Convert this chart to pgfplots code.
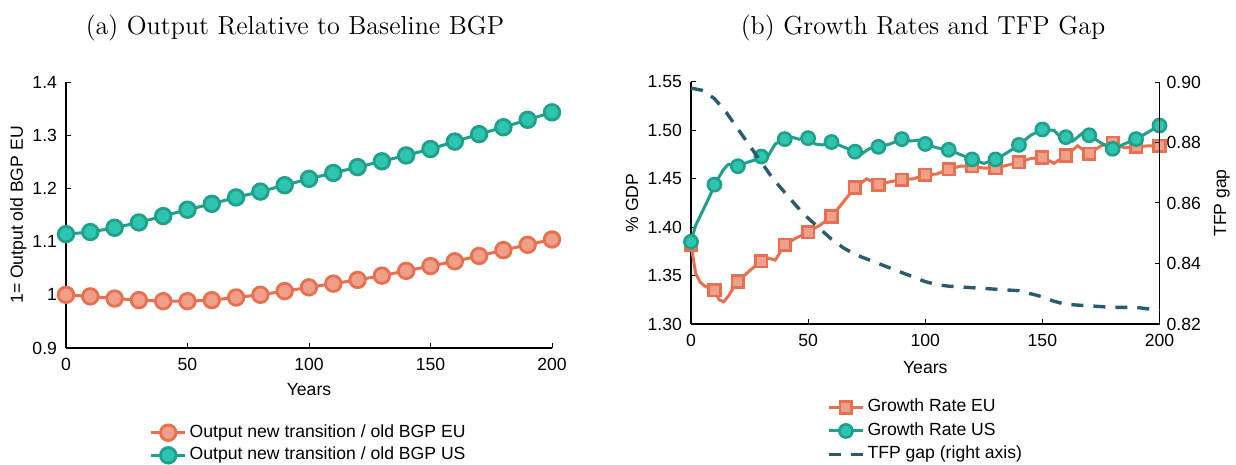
\documentclass[border=0pt]{standalone}
\usepackage{fontspec}
\usepackage{pgfplots}
\pgfplotsset{compat=1.18}
\newfontfamily\arial{Liberation Sans}
\definecolor{euedge}{HTML}{E8704F}
\definecolor{eufill}{HTML}{F0A08A}
\definecolor{usedge}{HTML}{1FA08A}
\definecolor{usfill}{HTML}{2EC4B0}
\definecolor{tfp}{HTML}{2A5C70}

\pgfplotstableread{
x eu us
0 1.000 1.114
10 0.997 1.118
20 0.993 1.126
30 0.990 1.136
40 0.988 1.148
50 0.988 1.160
60 0.990 1.171
70 0.995 1.183
80 1.000 1.194
90 1.007 1.206
100 1.014 1.218
110 1.021 1.229
120 1.028 1.240
130 1.036 1.251
140 1.045 1.262
150 1.054 1.274
160 1.063 1.288
170 1.073 1.302
180 1.084 1.315
190 1.094 1.329
200 1.104 1.343
}\outputdata

\pgfplotstableread{
x eu us
0 1.382 1.385
10 1.335 1.444
20 1.344 1.463
30 1.365 1.473
40 1.382 1.491
50 1.395 1.492
60 1.411 1.488
70 1.441 1.478
80 1.444 1.483
90 1.449 1.491
100 1.454 1.486
110 1.460 1.480
120 1.463 1.470
130 1.461 1.470
140 1.467 1.485
150 1.472 1.501
160 1.474 1.493
170 1.476 1.495
180 1.487 1.481
190 1.483 1.491
200 1.484 1.505
}\growthmarks

\pgfplotstableread{
x y
0 1.382
2 1.352
4 1.343
6 1.339
8 1.337
10 1.335
12 1.325
14 1.323
16 1.329
18 1.337
20 1.344
25 1.355
30 1.365
33 1.368
36 1.366
40 1.382
45 1.389
50 1.395
55 1.402
60 1.411
65 1.426
70 1.441
75 1.450
80 1.444
85 1.447
90 1.449
95 1.450
100 1.454
105 1.455
110 1.460
115 1.463
120 1.463
125 1.461
130 1.461
135 1.464
140 1.467
145 1.471
150 1.472
155 1.466
160 1.474
165 1.484
170 1.476
175 1.484
180 1.487
185 1.482
190 1.483
195 1.484
200 1.484
}\euline

\pgfplotstableread{
x y
0 1.385
2 1.402
4 1.412
6 1.422
8 1.432
10 1.444
12 1.452
14 1.460
16 1.465
20 1.463
24 1.467
28 1.470
30 1.473
33 1.474
36 1.486
40 1.491
43 1.493
46 1.491
50 1.492
53 1.486
56 1.485
60 1.488
63 1.485
66 1.482
70 1.478
73 1.476
76 1.481
80 1.483
85 1.486
90 1.491
94 1.489
97 1.490
100 1.486
105 1.482
110 1.480
115 1.475
120 1.470
125 1.466
130 1.470
135 1.477
140 1.485
145 1.495
150 1.501
155 1.500
158 1.492
160 1.493
163 1.489
167 1.497
170 1.495
175 1.487
180 1.481
185 1.486
190 1.491
195 1.498
200 1.505
}\usline

\pgfplotstableread{
x y
0 0.898
5 0.8972
10 0.8945
15 0.890
20 0.8845
25 0.879
30 0.8735
35 0.868
40 0.8635
45 0.859
50 0.855
55 0.8515
60 0.848
65 0.8452
70 0.843
75 0.8415
80 0.840
85 0.8385
90 0.837
95 0.8355
100 0.834
105 0.833
110 0.8325
120 0.832
130 0.8315
140 0.831
145 0.830
150 0.829
155 0.8275
160 0.8265
170 0.826
180 0.8255
190 0.8255
200 0.8245
}\tfpdata

\pgfplotsset{
  base/.style={
    scale only axis,
    axis line style={-, black, line width=0.6pt},
    tick align=inside,
    major tick length=2.5pt,
    every tick/.style={black, line width=0.5pt},
    font=\arial\fontsize{8.8}{10.5}\selectfont,
    /pgf/number format/assume math mode=true,
    xmin=0, xmax=200, xtick={0,50,100,150,200},
    xticklabel style={yshift=-1.5pt},
    yticklabel style={xshift=-1pt},
    legend cell align=left,
  },
  marklegend/.style={legend image code/.code={
    \draw[sharp plot,mark repeat=2,mark phase=2] plot coordinates {(0cm,0cm) (0.3cm,0cm) (0.6cm,0cm)};}},
}

\begin{document}
\begin{tikzpicture}
\useasboundingbox (0,0) rectangle (618pt,232.5pt);

\node[font=\fontsize{13.03}{15}\selectfont] at (147.5pt,218.5pt) {(a) Output Relative to Baseline BGP};
\node[font=\fontsize{13.03}{15}\selectfont] at (461.5pt,218.5pt) {(b) Growth Rates and TFP Gap};

% ---------- left panel
\begin{axis}[base,
  at={(33pt,58.5pt)}, anchor=south west,
  width=243pt, height=133pt,
  axis x line*=bottom, axis y line*=left,
  ymin=0.9, ymax=1.4, ytick={0.9,1,1.1,1.2,1.3,1.4},
  yticklabels={0.9,1,1.1,1.2,1.3,1.4},
  xlabel={Years},
  xlabel style={at={(axis description cs:0.5,0)}, anchor=center, yshift=-21pt},
  ylabel={1= Output old BGP EU},
  ylabel style={at={(axis description cs:-0.098,0.5)}, anchor=center},
  legend style={draw=none, fill=none, inner sep=0pt, row sep=0pt,
    at={(axis description cs:0.5,-0.361)}, anchor=center,
    nodes={inner sep=1.4pt, text height=6.5pt, text depth=2pt},
    font=\arial\fontsize{8.8}{10.5}\selectfont},
]
\addplot[euedge, line width=1.5pt, mark=*, mark size=3.9pt,
  mark options={draw=euedge, fill=eufill, line width=1.4pt, solid}]
  table[x=x,y=eu] {\outputdata};
\addlegendentry{Output new transition / old BGP EU}
\addplot[usedge, line width=1.5pt, mark=*, mark size=3.9pt,
  mark options={draw=usedge, fill=usfill, line width=1.4pt, solid}]
  table[x=x,y=us] {\outputdata};
\addlegendentry{Output new transition / old BGP US}
\end{axis}

% ---------- right panel, left axis
\begin{axis}[base,
  at={(345.5pt,70.5pt)}, anchor=south west,
  width=234.25pt, height=121pt,
  axis x line*=bottom, axis y line*=left,
  ymin=1.30, ymax=1.55, ytick={1.30,1.35,1.40,1.45,1.50,1.55},
  yticklabels={1.30,1.35,1.40,1.45,1.50,1.55},
  xlabel={Years},
  xlabel style={at={(axis description cs:0.5,0)}, anchor=center, yshift=-22pt},
  ylabel={\% GDP},
  ylabel style={at={(axis description cs:-0.126,0.5)}, anchor=center},
  legend style={draw=none, fill=none, inner sep=0pt, row sep=0.45pt,
    at={(axis description cs:0.5016,-0.442)}, anchor=center,
    nodes={inner sep=1.4pt, text height=6.5pt, text depth=2pt},
    font=\arial\fontsize{8.8}{10.5}\selectfont},
]
\addplot[euedge, line width=1.5pt, forget plot] table[x=x,y=y] {\euline};
\addplot[euedge, line width=1.5pt, only marks, mark=square*, mark size=2.9pt,
  mark options={draw=euedge, fill=eufill, line width=1.3pt, solid}, marklegend]
  table[x=x,y=eu] {\growthmarks};
\addlegendentry{Growth Rate EU}
\addplot[usedge, line width=1.5pt, forget plot] table[x=x,y=y] {\usline};
\addplot[usedge, line width=1.5pt, only marks, mark=*, mark size=3.3pt,
  mark options={draw=usedge, fill=usfill, line width=1.3pt, solid}, marklegend]
  table[x=x,y=us] {\growthmarks};
\addlegendentry{Growth Rate US}
\addlegendimage{tfp, line width=1.7pt, dash pattern=on 6pt off 5pt}
\addlegendentry{TFP gap (right axis)}
\end{axis}

% ---------- right panel, right axis
\begin{axis}[base,
  at={(345.5pt,70.5pt)}, anchor=south west,
  width=234.25pt, height=121pt,
  axis x line=none, axis y line*=right,
  ymin=0.82, ymax=0.90, ytick={0.82,0.84,0.86,0.88,0.90},
  yticklabels={0.82,0.84,0.86,0.88,0.90},
  yticklabel style={xshift=1pt},
]
\addplot[tfp, line width=1.7pt, dash pattern=on 6pt off 5pt] table[x=x,y=y] {\tfpdata};
\end{axis}
\node[rotate=90, anchor=center, font=\arial\fontsize{8.8}{10.5}\selectfont] at (610.9pt,131pt) {TFP gap};
\end{tikzpicture}
\end{document}
